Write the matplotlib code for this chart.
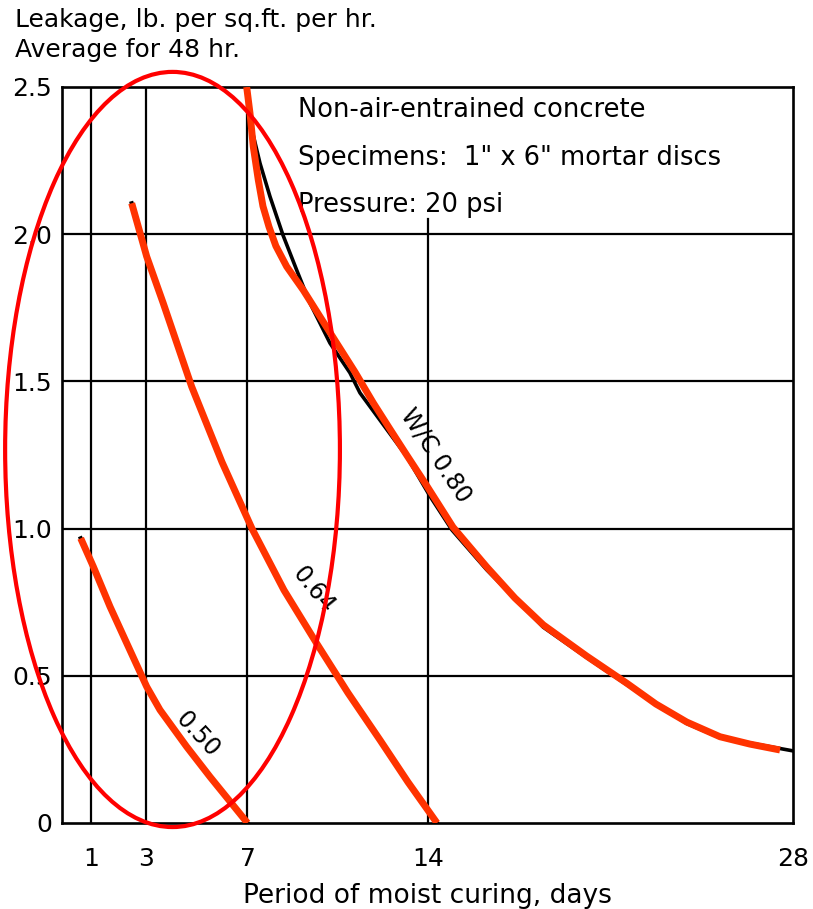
import numpy as np
import matplotlib
matplotlib.use('Agg')
import matplotlib.pyplot as plt
from matplotlib.patches import Ellipse

# curve data (days, leakage)
days_050 = [0.634, 1.066, 1.679, 2.292, 3.028, 3.552, 4.604, 5.522, 7.0]
leak_050 = [0.967, 0.871, 0.735, 0.611, 0.463, 0.384, 0.259, 0.157, 0.0]

days_064 = [2.475, 3.028, 3.682, 4.801, 5.995, 7.174, 8.415, 9.683, 10.897,
            12.138, 13.223, 14.345]
leak_064 = [2.105, 1.924, 1.765, 1.482, 1.226, 1.0, 0.791, 0.610, 0.442,
            0.282, 0.139, 0.0]

days_080 = [6.968, 7.097, 7.225, 7.419, 7.600, 7.834, 8.100, 8.520, 9.164,
            9.811, 10.459, 11.168, 11.878, 12.525, 13.173, 13.883, 14.959,
            16.252, 17.337, 18.423, 20.087, 21.622, 22.746, 23.923, 25.201,
            26.351, 27.502]
leak_080 = [2.5, 2.411, 2.297, 2.184, 2.095, 2.025, 1.960, 1.890, 1.810,
            1.720, 1.630, 1.532, 1.427, 1.338, 1.250, 1.155, 1.005,
            0.870, 0.764, 0.673, 0.567, 0.475, 0.404, 0.343, 0.293,
            0.268, 0.248]

# the original black 0.80 line (sits a little off the red trace)
days_080_blk = [7.0, 7.174, 7.485, 7.872, 8.376, 8.908, 9.423, 10.199, 10.974,
                11.362, 13.173, 14.077, 14.921, 16.252, 18.423, 20.087, 21.622,
                23.923, 25.201, 28.0]
leak_080_blk = [2.473, 2.354, 2.241, 2.128, 1.997, 1.878, 1.766, 1.630, 1.529,
                1.461, 1.245, 1.110, 0.995, 0.860, 0.665, 0.562, 0.470,
                0.338, 0.290, 0.245]

x_ticks = [1, 3, 7, 14, 28]
y_ticks = [0, 0.5, 1.0, 1.5, 2.0, 2.5]
y_ticklabels = ['0', '0.5', '1.0', '1.5', '2.0', '2.5']

# the day axis of the original drawing is hand ruled, not quite linear
knot_days = [0, 1, 3, 7, 14, 28]
knot_pos = [0, 29.5, 84, 185.5, 366, 731]


def fwd(x):
    return np.interp(x, knot_days, knot_pos)


def inv(p):
    return np.interp(p, knot_pos, knot_days)


plt.rcParams['font.family'] = ['DejaVu Sans']

fig = plt.figure(figsize=(8.13, 9.09), dpi=100)
ax = fig.add_axes([0.07626, 0.09461, 0.8991, 0.8097])
ax.set_xscale('function', functions=(fwd, inv))
ax.set_xlim(0, 28)
ax.set_ylim(0, 2.5)

# grid
for yv in [0.5, 1.0, 1.5, 2.0]:
    ax.axhline(yv, color='black', lw=1.6, zorder=1)
for xv in [1, 3, 7]:
    ax.axvline(xv, color='black', lw=1.6, zorder=1)
ax.plot([14, 14], [0, 2.05], color='black', lw=1.6, zorder=1)

for s in ax.spines.values():
    s.set_linewidth(1.9)

ax.set_xticks(x_ticks)
ax.set_xticklabels([str(t) for t in x_ticks], fontsize=18)
ax.xaxis.set_minor_locator(matplotlib.ticker.NullLocator())
ax.set_yticks(y_ticks)
ax.set_yticklabels(y_ticklabels, fontsize=18)
ax.tick_params(axis='x', length=0, pad=17)
ax.tick_params(axis='y', length=0, pad=7)
ax.set_xlabel('Period of moist curing, days', fontsize=19, labelpad=9)

# black original curves
ax.plot(days_050, leak_050, color='black', lw=3, zorder=2)
ax.plot(days_064, leak_064, color='black', lw=3, zorder=2)
ax.plot(days_080_blk, leak_080_blk, color='black', lw=2.6, zorder=2)

# red traces
for d, l in [(days_050, leak_050), (days_064, leak_064), (days_080, leak_080)]:
    ax.plot(d, l, color='#ff3300', lw=5, solid_capstyle='butt',
            solid_joinstyle='round', zorder=3)

# curve labels
ax.text(5.05, 0.30, '0.50', rotation=-47, fontsize=17, ha='center', va='center')
ax.text(9.55, 0.79, '0.64', rotation=-51, fontsize=17, ha='center', va='center')
ax.text(14.3, 1.25, 'W/C 0.80', rotation=-56, fontsize=17, ha='center', va='center')

# notes
ax.text(8.96, 2.422, 'Non-air-entrained concrete', fontsize=18.5, va='center')
ax.text(8.96, 2.259, 'Specimens:  1" x 6" mortar discs', fontsize=18.5, va='center')
ax.text(8.96, 2.099, 'Pressure: 20 psi', fontsize=18.5, va='center')

fig.text(15 / 813, 1 - 20 / 909, 'Leakage, lb. per sq.ft. per hr.', fontsize=18, va='center')
fig.text(15 / 813, 1 - 50 / 909, 'Average for 48 hr.', fontsize=18, va='center')

# red ellipse highlight
ell = Ellipse((0.1512, 0.5075), 0.458, 1.026, transform=ax.transAxes, fill=False,
              edgecolor='#ff0000', lw=3, clip_on=False, zorder=4)
ax.add_patch(ell)

fig.savefig('out.png', dpi=100)
